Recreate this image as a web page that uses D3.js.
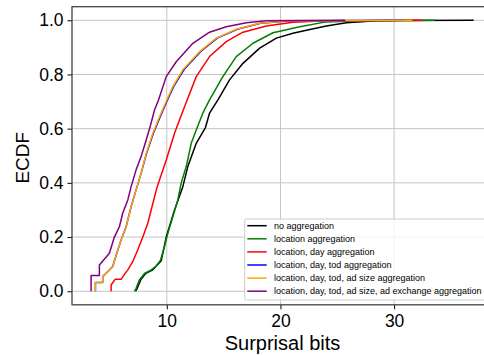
<!DOCTYPE html>
<html>
<head>
<meta charset="utf-8">
<script src="https://cdn.jsdelivr.net/npm/d3@7"></script>
<style>
  body { margin: 0; background: #fff; }
  svg { display: block; font-family: "Liberation Sans", Arial, sans-serif; }
</style>
</head>
<body>
<div class="chart"></div>
<script>
// values (x = surprisal bits, y = ECDF)
var blackX  = [7.25, 7.4, 7.7, 8.15, 8.77, 9.51, 9.95, 10.68, 11.41, 11.85, 12.59, 13.4, 13.76, 14.5, 15.52, 16.7, 18.17, 19.64, 21.1, 22.28, 24.04, 25.8, 28.45, 31.0, 37.0];
var blackY  = [0, 0.011, 0.042, 0.066, 0.079, 0.113, 0.2, 0.3, 0.386, 0.46, 0.546, 0.604, 0.657, 0.706, 0.78, 0.841, 0.897, 0.934, 0.952, 0.963, 0.979, 0.991, 0.998, 0.9995, 1.0];
var greenX  = [7.15, 7.3, 7.59, 8.04, 8.63, 9.07, 9.45, 9.8, 10.09, 10.53, 10.97, 11.27, 11.71, 12.15, 12.59, 13.17, 13.76, 14.93, 16.11, 17.58, 19.34, 21.7, 24.0, 27.0, 33.6];
var greenY  = [0, 0.011, 0.042, 0.066, 0.079, 0.093, 0.115, 0.165, 0.214, 0.275, 0.337, 0.4, 0.46, 0.546, 0.595, 0.657, 0.706, 0.792, 0.866, 0.915, 0.954, 0.976, 0.994, 0.998, 1.0];
var redX    = [5.1, 5.1, 5.45, 5.98, 6.33, 6.57, 7.0, 7.44, 7.89, 8.33, 8.7, 9.15, 9.95, 10.68, 11.2, 11.85, 12.59, 13.76, 15.23, 16.7, 18.76, 21.1, 24.0, 32.5];
var redY    = [0, 0.023, 0.044, 0.044, 0.066, 0.079, 0.109, 0.152, 0.2, 0.251, 0.312, 0.385, 0.484, 0.583, 0.641, 0.712, 0.792, 0.866, 0.921, 0.956, 0.979, 0.993, 0.998, 1.0];
var blueX   = [3.72, 3.72, 4.36, 4.36, 4.8, 5.24, 5.6, 5.98, 6.42, 6.86, 7.3, 7.74, 8.22, 8.82, 9.42, 10.06, 10.6, 11.5, 12.96, 14.43, 16.2, 18.25, 20.6, 31.0];
var blueY   = [0, 0.032, 0.032, 0.054, 0.072, 0.091, 0.14, 0.189, 0.238, 0.312, 0.374, 0.435, 0.509, 0.583, 0.644, 0.706, 0.755, 0.817, 0.884, 0.934, 0.967, 0.989, 0.997, 1.0];
var orangeX = [3.72, 3.72, 4.36, 4.36, 4.8, 5.24, 5.6, 5.98, 6.42, 6.86, 7.3, 7.74, 8.19, 8.77, 9.36, 10.0, 10.53, 11.41, 12.88, 14.35, 16.11, 18.17, 20.5, 31.6];
var orangeY = [0, 0.032, 0.032, 0.054, 0.072, 0.091, 0.14, 0.189, 0.238, 0.312, 0.374, 0.435, 0.509, 0.583, 0.644, 0.706, 0.755, 0.817, 0.884, 0.934, 0.967, 0.989, 0.997, 1.0];
var purpleX = [3.34, 3.34, 4.07, 4.07, 4.95, 5.39, 5.83, 6.12, 6.57, 6.86, 7.3, 7.74, 8.19, 8.55, 8.92, 9.27, 9.95, 10.83, 12.29, 13.76, 15.23, 17.0, 18.76, 25.7];
var purpleY = [0, 0.058, 0.058, 0.097, 0.14, 0.2, 0.238, 0.288, 0.337, 0.386, 0.448, 0.497, 0.558, 0.61, 0.669, 0.706, 0.792, 0.847, 0.915, 0.956, 0.976, 0.991, 0.998, 1.0];

var labels = ["no aggregation", "location aggregation", "location, day aggregation",
  "location, day, tod aggregation", "location, day, tod, ad size aggregation",
  "location, day, tod, ad size, ad exchange aggregation"];
var colors = ["black", "green", "red", "blue", "orange", "purple"];
var xTicks = [10, 20, 30];
var yTicks = [0, 0.2, 0.4, 0.6, 0.8, 1.0];

var series = [[blackX, blackY], [greenX, greenY], [redX, redY],
              [blueX, blueY], [orangeX, orangeY], [purpleX, purpleY]];

var w = 484, h = 356;
var pLeft = 72, pRight = 493, pTop = 6.7, pBottom = 304.8;

var svg = d3.select(".chart").append("svg")
  .attr("width", w).attr("height", h);

var x = d3.scaleLinear().domain([1.66, 38.7]).range([pLeft, pRight]);
var y = d3.scaleLinear().domain([-0.05, 1.05]).range([pBottom, pTop]);

// grid
svg.append("g").selectAll("line").data(xTicks).enter().append("line")
  .attr("x1", d => x(d)).attr("x2", d => x(d))
  .attr("y1", pTop).attr("y2", pBottom)
  .attr("stroke", "#c4c4c4").attr("stroke-width", 1);
svg.append("g").selectAll("line").data(yTicks).enter().append("line")
  .attr("x1", pLeft).attr("x2", pRight)
  .attr("y1", d => y(d)).attr("y2", d => y(d))
  .attr("stroke", "#c4c4c4").attr("stroke-width", 1);

// curves
var line = d3.line().x(d => x(d[0])).y(d => y(d[1]));
series.forEach(function(s, i) {
  var pts = s[0].map(function(v, j) { return [v, s[1][j]]; });
  svg.append("path")
    .attr("d", line(pts))
    .attr("fill", "none")
    .attr("stroke", colors[i])
    .attr("stroke-width", 1.5)
    .attr("stroke-linejoin", "round");
});

// axes
var xAxis = svg.append("g").attr("transform", "translate(0," + pBottom + ")")
  .call(d3.axisBottom(x).tickValues(xTicks).tickSize(4.5).tickPadding(5).tickFormat(d3.format("d")));
var yAxis = svg.append("g").attr("transform", "translate(" + pLeft + ",0)")
  .call(d3.axisLeft(y).tickValues(yTicks).tickSize(4.5).tickPadding(4).tickFormat(d3.format(".1f")));
[xAxis, yAxis].forEach(function(a) {
  a.select(".domain").remove();
  a.selectAll("text").attr("font-size", "17.5px").attr("fill", "#000")
    .attr("font-family", "'Liberation Sans', Arial, sans-serif");
  a.selectAll("line").attr("stroke", "#000").attr("stroke-width", 1);
});

// spines
svg.append("rect")
  .attr("x", pLeft).attr("y", pTop)
  .attr("width", pRight - pLeft).attr("height", pBottom - pTop)
  .attr("fill", "none").attr("stroke", "#444").attr("stroke-width", 1.3);

// axis labels
svg.append("text").attr("x", (pLeft + pRight) / 2).attr("y", 350)
  .attr("text-anchor", "middle").attr("font-size", "20px").text("Surprisal bits");
svg.append("text")
  .attr("transform", "translate(29," + ((pTop + pBottom) / 2 + 2) + ") rotate(-90)")
  .attr("text-anchor", "middle").attr("font-size", "19px").text("ECDF");

// legend
var lg = svg.append("g");
lg.append("rect").attr("x", 244.7).attr("y", 219).attr("width", 300).attr("height", 81)
  .attr("rx", 2).attr("fill", "#fff").attr("fill-opacity", 0.8)
  .attr("stroke", "#ccc").attr("stroke-width", 1);
labels.forEach(function(t, i) {
  var yy = 225.7 + i * 13.1;
  lg.append("line").attr("x1", 247.3).attr("x2", 266.7).attr("y1", yy).attr("y2", yy)
    .attr("stroke", colors[i]).attr("stroke-width", 1.5);
  lg.append("text").attr("x", 274).attr("y", yy).attr("dy", "0.35em")
    .attr("font-size", "9px").text(t);
});
</script>
</body>
</html>
